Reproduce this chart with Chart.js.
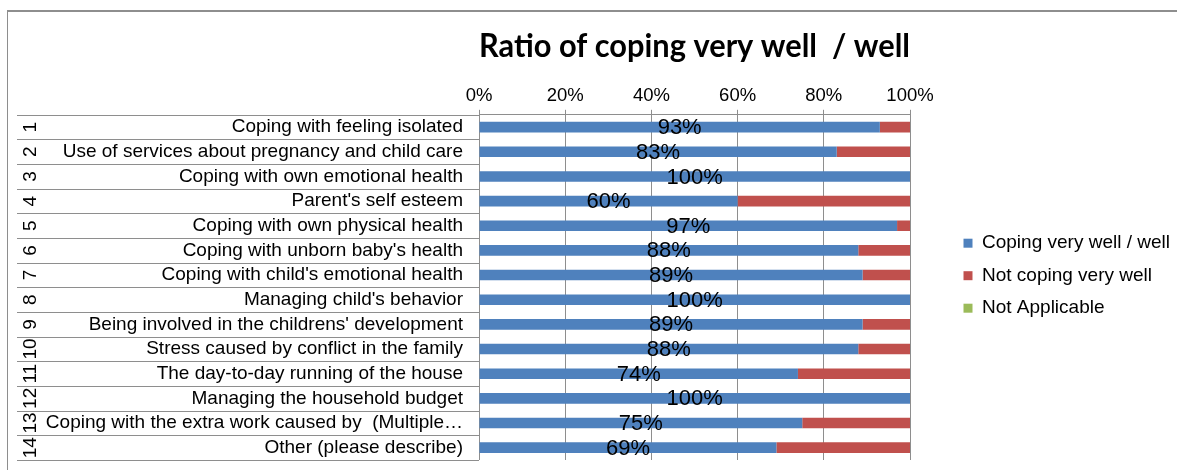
<!DOCTYPE html>
<html>
<head>
<meta charset="utf-8">
<script src="https://cdn.jsdelivr.net/npm/chart.js@4.4.0/dist/chart.umd.min.js"></script>
<style>
  body { margin: 0; background: #fff; }
  #wrap { position: relative; width: 1177px; height: 470px; overflow: hidden; }
  #frame { position: absolute; left: 7px; top: 10px; width: 1200px; height: 500px; border: 1px solid #8e8e8e; border-top-width: 2px; }
  #mycanvas { position: absolute; left: 0; top: 0; }
</style>
</head>
<body>
<div id="wrap">
  <div id="frame"></div>
  <canvas id="mycanvas" width="1177" height="470"></canvas>
</div>
<script>
var categories = [
  'Coping with feeling isolated',
  'Use of services about pregnancy and child care',
  'Coping with own emotional health',
  "Parent's self esteem",
  'Coping with own physical health',
  "Coping with unborn baby's health",
  "Coping with child's emotional health",
  "Managing child's behavior",
  "Being involved in the childrens' development",
  'Stress caused by conflict in the family',
  'The day-to-day running of the house',
  'Managing the household budget',
  'Coping with the extra work caused by  (Multiple\u2026',
  'Other (please describe)'
];
var rowNumbers = ['1', '2', '3', '4', '5', '6', '7', '8', '9', '10', '11', '12', '13', '14'];
var copingWell = [93, 83, 100, 60, 97, 88, 89, 100, 89, 88, 74, 100, 75, 69];
var notCoping = [7, 17, 0, 40, 3, 12, 11, 0, 11, 12, 26, 0, 25, 31];
var notApplicable = [0, 0, 0, 0, 0, 0, 0, 0, 0, 0, 0, 0, 0, 0];
var percentTicks = ['0%', '20%', '40%', '60%', '80%', '100%'];

var arial = "'Liberation Sans', Arial, sans-serif";
var labelFont = { family: arial, size: 19 };

// lines between the rows, only in the label area on the left
var rowLines = {
  id: 'rowLines',
  afterDraw: function(chart) {
    var y = chart.scales.y;
    var ctx = chart.ctx;
    var half = (y.getPixelForValue(1) - y.getPixelForValue(0)) / 2;
    ctx.save();
    ctx.strokeStyle = '#8e8e8e';
    ctx.lineWidth = 1;
    ctx.beginPath();
    for (var i = 0; i <= categories.length; i++) {
      var py = Math.round(y.getPixelForValue(i) - half) + 0.5;
      ctx.moveTo(chart.scales.rowNo.left, py);
      ctx.lineTo(chart.chartArea.left, py);
    }
    ctx.stroke();
    ctx.restore();
  }
};

// percentage written in the middle of the blue bar
var barValues = {
  id: 'barValues',
  afterDatasetsDraw: function(chart) {
    var ctx = chart.ctx;
    ctx.save();
    ctx.font = '22px ' + arial;
    ctx.fillStyle = '#000';
    ctx.textAlign = 'center';
    ctx.textBaseline = 'middle';
    chart.getDatasetMeta(0).data.forEach(function(bar, i) {
      ctx.fillText(copingWell[i] + '%', (bar.x + bar.base) / 2, bar.y + 1);
    });
    ctx.restore();
  }
};

// the layout caps side boxes at a small width, the legend needs more
var wideLegend = {
  id: 'wideLegend',
  afterInit: function(chart) {
    var fit = chart.legend.fit;
    chart.legend.fit = function() {
      fit.call(this);
      this.width = 220;
    };
  }
};

// the category axes should not pull the plot up from the bottom
function noEdgePadding(scale) {
  scale.paddingTop = 0;
  scale.paddingBottom = 0;
}

var chartdata = {
  labels: categories,
  datasets: [
    { label: 'Coping very well / well', data: copingWell, backgroundColor: '#4f81bd' },
    { label: 'Not coping very well', data: notCoping, backgroundColor: '#c0504d' },
    { label: 'Not Applicable', data: notApplicable, backgroundColor: '#9bbb59' }
  ]
};

var ctx = document.getElementById('mycanvas');

var barGraph = new Chart(ctx, {
  type: 'bar',
  data: chartdata,
  plugins: [wideLegend, rowLines, barValues],
  options: {
    indexAxis: 'y',
    responsive: false,
    animation: false,
    borderWidth: 0,
    barPercentage: 0.43,
    categoryPercentage: 1,
    layout: { padding: { left: 17, right: 7, top: 0, bottom: 10 } },
    plugins: {
      title: {
        display: true,
        fullSize: false,
        text: 'Ratio of coping very well  / well',
        color: '#000',
        font: { family: 'Lato, sans-serif', size: 33, weight: 'bold' },
        padding: { top: 27, bottom: 15 }
      },
      legend: {
        position: 'right',
        title: { display: true, text: '', padding: { top: 77, bottom: 0 } },
        labels: { boxWidth: 9, boxHeight: 9, padding: 13.5, color: '#000', font: labelFont }
      },
      tooltip: { enabled: false }
    },
    scales: {
      x: {
        position: 'top',
        stacked: true,
        min: 0,
        max: 100,
        ticks: {
          stepSize: 20,
          padding: 3,
          color: '#000',
          font: { family: arial, size: 18.5 },
          callback: function(v, i) { return percentTicks[i]; }
        },
        grid: { color: '#8e8e8e', tickLength: 5 },
        border: { color: '#8e8e8e' }
      },
      y: {
        stacked: true,
        grid: { display: false, drawTicks: false },
        border: { display: false },
        ticks: { color: '#000', font: labelFont, padding: 16, autoSkip: false },
        afterFit: function(scale) { scale.width = 438; noEdgePadding(scale); }
      },
      rowNo: {
        type: 'category',
        labels: rowNumbers,
        position: 'left',
        offset: true,
        weight: 1,
        grid: { display: false, drawTicks: false },
        border: { display: false },
        ticks: { color: '#000', font: labelFont, minRotation: 90, maxRotation: 90, crossAlign: 'center', padding: 0, autoSkip: false },
        afterFit: function(scale) { scale.width = 24; noEdgePadding(scale); }
      },
      gap: {
        type: 'linear',
        position: 'right',
        ticks: { display: false },
        grid: { display: false },
        border: { display: false },
        afterFit: function(scale) { scale.width = 40; }
      }
    }
  }
});
</script>
</body>
</html>
